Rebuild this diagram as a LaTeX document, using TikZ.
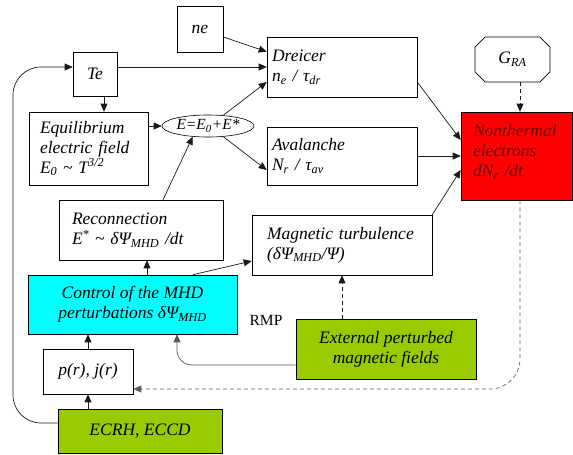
\documentclass[tikz,border=0pt]{standalone}
\usepackage{fontspec}
\setmainfont{Liberation Serif}
\usetikzlibrary{arrows.meta, shapes.geometric, shapes.misc}
\newcommand{\boxfont}{\fontsize{17.5}{20}\selectfont\itshape}
\definecolor{mhdcyan}{HTML}{00FFFF}
\definecolor{srcgreen}{HTML}{99CC00}
\definecolor{rered}{HTML}{FF0000}
\definecolor{redtext}{HTML}{6E0000}

\begin{document}
\begin{tikzpicture}[x=1pt, y=-1pt,
  box/.style={draw=black, line width=0.6pt, inner sep=0pt, align=center, font=\boxfont},
  arr/.style={-{Triangle[length=8pt,width=7pt]}, line width=0.7pt, black!90},
  dasharr/.style={arr, dash pattern=on 4pt off 3pt}]
  \useasboundingbox (0,0) rectangle (573,455);

  % --- Top row: sources of runaway electrons ---
  \node[box, minimum width=46pt, minimum height=46pt] (ne) at (200,29) {ne};
  \node[box, minimum width=44pt, minimum height=44pt] (te) at (95,74) {Te};
  \node[box, minimum width=150pt, minimum height=60pt, text width=140pt, align=left] (dreicer) at (342,67)
    {Dreicer\\n\textsubscript{e} / τ\textsubscript{dr}};
  \node[box, minimum width=150pt, minimum height=58pt, text width=140pt, align=left] (aval) at (342,156)
    {Avalanche\\N\textsubscript{r} / τ\textsubscript{av}};
  \node[box, chamfered rectangle, chamfered rectangle xsep=9pt, minimum width=75pt, minimum height=45pt] (gra) at (512.5,59.5)
    {G\textsubscript{RA}};
  \node[box, fill=rered, text=redtext, minimum width=111pt, minimum height=88pt, text width=87pt, align=left] (nonth) at (516.5,156)
    {Nonthermal\\electrons\\dN\textsubscript{r} /dt\\[-9pt]\mbox{}};

  % --- Electric field ---
  \node[box, minimum width=119pt, minimum height=73pt, text width=97pt, align=left] (eq) at (88.5,148.5)
    {Equilibrium\\electric field\\E\textsubscript{0} \textasciitilde{} T\textsuperscript{3/2}};
  \node[box, ellipse, minimum width=92pt, minimum height=22pt, font=\fontsize{15.5}{18}\selectfont\itshape] (esum) at (208,126)
    {E=E\textsubscript{0}+E*};
  \node[box, minimum width=164pt, minimum height=60pt, text width=138pt, align=left] (recon) at (141,230)
    {Reconnection\\E\textsuperscript{*} \textasciitilde{} δΨ\textsubscript{MHD} /dt};
  \node[box, minimum width=180pt, minimum height=60pt, text width=150pt, align=left] (turb) at (342,245)
    {Magnetic turbulence\\(δΨ\textsubscript{MHD}/Ψ)};

  % --- Control of the MHD perturbations ---
  \node[box, fill=mhdcyan, minimum width=209pt, minimum height=59pt] (control) at (132.5,304.5)
    {Control of the MHD\\perturbations δΨ\textsubscript{MHD}};
  \node[font=\fontsize{15.5}{18}\selectfont] (rmp) at (266,320) {RMP};
  \node[box, minimum width=90pt, minimum height=45pt] (pj) at (88,371.5) {p(r), j(r)};
  \node[box, fill=srcgreen, minimum width=164pt, minimum height=44pt] (ecrh) at (140,431) {ECRH, ECCD};
  \node[box, fill=srcgreen, minimum width=180pt, minimum height=60pt] (ext) at (386,349)
    {External perturbed\\magnetic fields};

  % --- Connectors ---
  \coordinate (lp) at (13,67);
  \draw[arr] ([yshift=8pt]ecrh.west) [rounded corners=28pt] -| (lp) [rounded corners=13pt] -- ([yshift=7pt]te.west);
  \draw[arr] ([yshift=-8pt]ne.east) -- ([yshift=-15pt]dreicer.north west);
  \draw[arr] ([yshift=7pt]te.east) -- (dreicer.west);
  \draw[arr] ([xshift=9pt]te.south) -- ([xshift=9pt]te.south |- eq.north);
  \draw[arr] (eq.east |- esum.west) -- (esum.west);
  \draw[arr] (esum.35) -- ([yshift=-15pt]dreicer.west);
  \draw[arr] (esum.-35) -- ([yshift=-14pt]aval.west);
  \draw[arr] ([xshift=22pt]recon.north) -- (esum.-145);
  \draw[arr] ([yshift=-15pt]dreicer.east) -- ([yshift=16pt]nonth.west);
  \draw[arr] (aval.east) -- (aval.east -| nonth.west);
  \draw[arr] (turb.north east) -- ([yshift=-14pt]nonth.west);
  \draw[dasharr] ([xshift=7.5pt]gra.south) -- ([xshift=7.5pt]gra.south |- nonth.north);
  \draw[dasharr, gray!75!black, rounded corners=30pt] ([xshift=3.5pt]nonth.south) |- ([yshift=-17.5pt]pj.east);
  \draw[arr] ([xshift=14.5pt]control.north) -- ([xshift=14.5pt]control.north |- recon.south);
  \draw[arr] ([xshift=60.5pt]control.north) -- ([yshift=-16pt]turb.west);
  \draw[arr] (pj.north) -- (pj.north |- control.south);
  \draw[arr] (ecrh.north -| pj.south) -- (pj.south);
  \draw[dasharr] (ext.north -| turb.south) -- (turb.south);
  \draw[arr, gray!70!black, rounded corners=15pt] ([yshift=-16pt]ext.west) -| ([xshift=44.5pt]control.south);
\end{tikzpicture}
\end{document}
